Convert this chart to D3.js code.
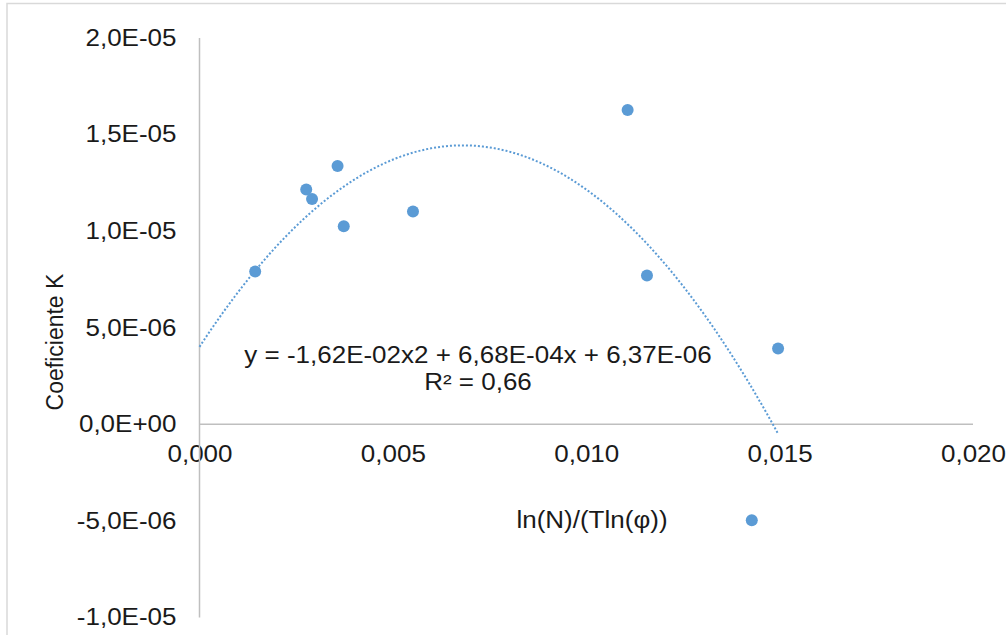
<!DOCTYPE html>
<meta charset="utf-8">
<title>Coeficiente K</title>
<style>
body { margin: 0; background: #fff; }
svg { display: block; font-family: "Liberation Sans", Arial, sans-serif; }
.axis text { font-size: 23px; fill: #1a1a1a; }
.axis path { stroke: #bfbfbf; stroke-width: 1.5px; }
</style>
<svg></svg>
<script src="https://cdn.jsdelivr.net/npm/d3@7"></script>
<script>
// points
var xVals = [0.00144, 0.00276, 0.00291, 0.00357, 0.00373, 0.00552, 0.01107, 0.01157, 0.01496, 0.01428];
var kVals = [7.91e-6, 12.16e-6, 11.67e-6, 13.37e-6, 10.26e-6, 11.02e-6, 16.27e-6, 7.70e-6, 3.92e-6, -4.97e-6];
var xTicks = [0, 0.005, 0.010, 0.015, 0.020];
var yTicks = [-1e-5, -5e-6, 0, 5e-6, 1e-5, 1.5e-5, 2e-5];
var eqText = "y = -1,62E-02x2 + 6,68E-04x + 6,37E-06";
var r2Text = "R² = 0,66";

var width = 1006, height = 635;
var svg = d3.select("svg").attr("width", width).attr("height", height);

// chart area border
svg.append("rect")
    .attr("x", 7).attr("y", 3.5)
    .attr("width", width + 10).attr("height", height + 10)
    .style("fill", "#fff")
    .style("stroke", "#d9d9d9")
    .style("stroke-width", "1.5px");

var x = d3.scaleLinear().domain([0, 0.02]).range([199.5, 973]);
var y = d3.scaleLinear().domain([-1e-5, 2e-5]).range([617.5, 38]);

function fmtY(v) {
  var s = v.toExponential(1).split("e");
  var e = +s[1];
  return s[0].replace(".", ",") + "E" + (e < 0 ? "-" : "+") + String(Math.abs(e)).padStart(2, "0");
}
var fmtX = function(v) { return d3.format(".3f")(v).replace(".", ","); };

// y axis
svg.append("g")
    .attr("class", "axis")
    .attr("transform", "translate(" + x(0) + ",0)")
    .call(d3.axisLeft(y).tickValues(yTicks).tickFormat(fmtY).tickSize(0).tickPadding(23));

// x axis at zero
var gx = svg.append("g")
    .attr("class", "axis")
    .attr("transform", "translate(0," + y(0) + ")")
    .call(d3.axisBottom(x).tickValues(xTicks).tickFormat(fmtX).tickSize(0).tickPadding(21));
gx.selectAll("text").attr("dy", "0.71em");

svg.selectAll(".axis .domain").attr("d", null);
svg.append("line")
    .attr("x1", x(0)).attr("x2", x(0)).attr("y1", y(2e-5)).attr("y2", y(-1e-5))
    .style("stroke", "#bfbfbf").style("stroke-width", "1.5px");
svg.append("line")
    .attr("x1", x(0)).attr("x2", x(0.02)).attr("y1", y(0)).attr("y2", y(0))
    .style("stroke", "#bfbfbf").style("stroke-width", "1.5px");

// quadratic least squares trendline
function polyFit2(xs, ys) {
  var n = xs.length, s = [0, 0, 0, 0, 0], t = [0, 0, 0];
  for (var i = 0; i < n; i++) {
    var p = 1;
    for (var k = 0; k < 5; k++) { s[k] += p; if (k < 3) t[k] += p * ys[i]; p *= xs[i]; }
  }
  var A = [[s[0], s[1], s[2], t[0]], [s[1], s[2], s[3], t[1]], [s[2], s[3], s[4], t[2]]];
  for (var c = 0; c < 3; c++) {
    for (var r = c + 1; r < 3; r++) {
      var f = A[r][c] / A[c][c];
      for (var j = c; j < 4; j++) A[r][j] -= f * A[c][j];
    }
  }
  var sol = [0, 0, 0];
  for (var r2 = 2; r2 >= 0; r2--) {
    var v = A[r2][3];
    for (var j2 = r2 + 1; j2 < 3; j2++) v -= A[r2][j2] * sol[j2];
    sol[r2] = v / A[r2][r2];
  }
  return sol; // c0, c1, c2
}
var coef = polyFit2(xVals, kVals);
var xMax = d3.max(xVals);
var trend = d3.range(0, 101).map(function(i) {
  var xv = xMax * i / 100;
  return [xv, coef[0] + coef[1] * xv + coef[2] * xv * xv];
});
svg.append("path")
    .datum(trend)
    .attr("d", d3.line().x(function(d) { return x(d[0]); }).y(function(d) { return y(d[1]); }))
    .style("fill", "none")
    .style("stroke", "#5b9bd5")
    .style("stroke-width", "2px")
    .style("stroke-dasharray", "2,2");

// points
svg.append("g").selectAll("circle")
    .data(xVals)
  .enter().append("circle")
    .attr("cx", function(d) { return x(d); })
    .attr("cy", function(d, i) { return y(kVals[i]); })
    .attr("r", 6)
    .style("fill", "#5b9bd5");

// trendline label
svg.append("text")
    .attr("class", "wide")
    .attr("x", 478).attr("y", 363)
    .attr("text-anchor", "middle")
    .style("font-size", "23px").style("fill", "#1a1a1a")
    .text(eqText);
svg.append("text")
    .attr("class", "wide")
    .attr("x", 478).attr("y", 390)
    .attr("text-anchor", "middle")
    .style("font-size", "23px").style("fill", "#1a1a1a")
    .text(r2Text);

// axis titles
svg.append("text")
    .attr("class", "wide")
    .attr("x", 592).attr("y", 528)
    .attr("text-anchor", "middle")
    .style("font-size", "23px").style("fill", "#1a1a1a")
    .text("ln(N)/(Tln(φ))");
svg.append("text")
    .attr("transform", "translate(63,342) rotate(-90)")
    .attr("text-anchor", "middle")
    .style("font-size", "23px").style("fill", "#1a1a1a")
    .text("Coeficiente K");

// the original text runs a bit wider than Liberation Sans
svg.selectAll(".axis text, text.wide").each(function() {
  var len = this.getComputedTextLength();
  d3.select(this).attr("textLength", len * 1.13).attr("lengthAdjust", "spacingAndGlyphs");
});
</script>
